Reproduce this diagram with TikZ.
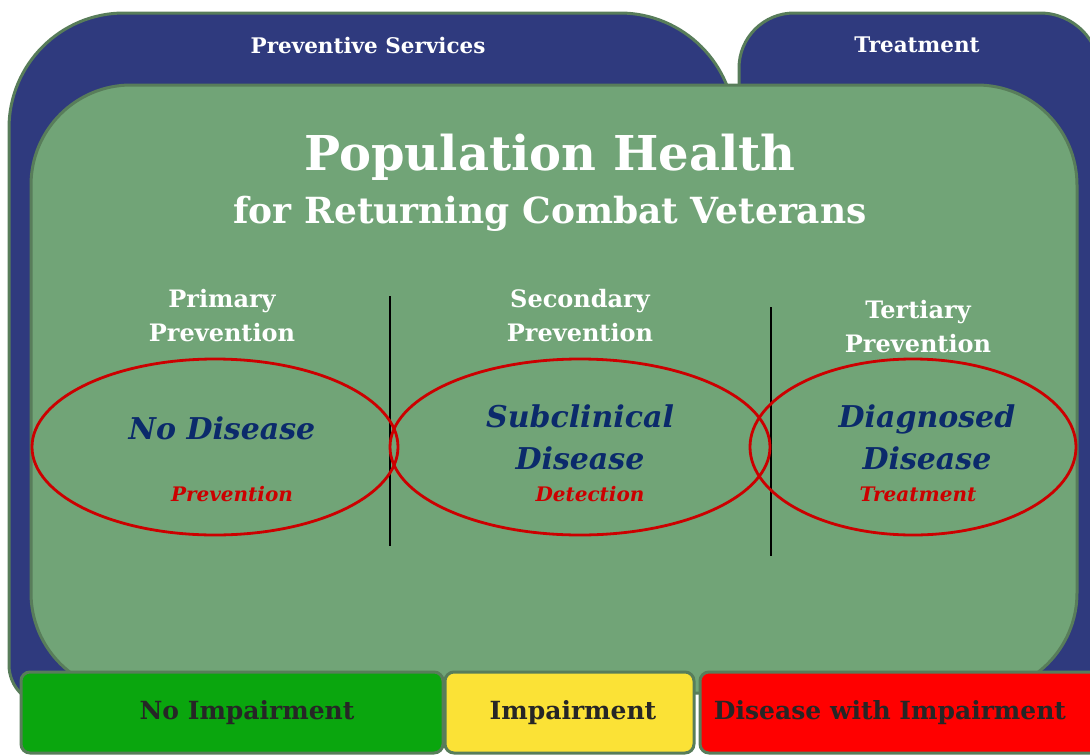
\documentclass[tikz,border=0pt]{standalone}
\usepackage{fontspec}
\setmainfont{DejaVu Serif}
\usetikzlibrary{shapes.geometric}

\definecolor{tabblue}{HTML}{2F3A7E}
\definecolor{panelgreen}{HTML}{71A477}
\definecolor{edgegreen}{HTML}{587D5A}
\definecolor{bargreen}{HTML}{0AA60E}
\definecolor{baryellow}{HTML}{FBE236}
\definecolor{barred}{HTML}{FF0000}
\definecolor{ovalred}{HTML}{CC0000}
\definecolor{stagenavy}{HTML}{0B2A6B}

\tikzset{
  tab/.style={fill=tabblue, draw=edgegreen, line width=3pt},
  panel/.style={fill=panelgreen, draw=edgegreen, line width=3pt},
  bar/.style={draw=edgegreen, line width=3pt, rounded corners=9pt,
    minimum height=81pt, inner sep=0pt, text=black!85,
    font=\bfseries\fontsize{25}{28}\selectfont},
  tablabel/.style={text=white, font=\bfseries\fontsize{21.5}{24}\selectfont},
  level/.style={text=white, align=center,
    font=\bfseries\fontsize{24}{34}\selectfont},
  stage/.style={text=stagenavy, align=center,
    font=\bfseries\itshape\fontsize{30}{42}\selectfont},
  action/.style={text=ovalred, font=\bfseries\itshape\fontsize{20}{22}\selectfont},
  oval/.style={draw=ovalred, line width=2.8pt, ellipse, inner sep=0pt,
    minimum height=176pt},
  divider/.style={draw=black, line width=2.8pt}
}

\begin{document}
\begin{tikzpicture}[x=1pt, y=-1pt]
  \useasboundingbox (0,0) rectangle (1090,755);
  \clip (0,0) rectangle (1090,755);

  % blue tabs behind the panel
  \path[tab] (9,665) -- (9,128) arc[start angle=180, end angle=270, radius=115]
    -- (620,13) arc[start angle=270, end angle=360, radius=115]
    -- (735,600) -- (400,600) -- (400,705)
    -- (49,705) arc[start angle=90, end angle=180, radius=40] -- cycle;
  \path[tab] (739,705) -- (739,68) arc[start angle=180, end angle=270, radius=55]
    -- (1040,13) arc[start angle=270, end angle=360, radius=60]
    -- (1100,705) -- cycle;

  \node[tablabel] (prevServ) at (368,45) {Preventive Services};
  \node[tablabel] (treatServ) at (917,45) {Treatment};

  % green panel
  \path[panel, rounded corners=100pt] (31,85) rectangle (1077,693);

  \node[text=white, font=\bfseries\fontsize{48}{54}\selectfont] (popHealth) at (550,157)
    {Population Health};
  \node[text=white, font=\bfseries\fontsize{36}{40}\selectfont] (veterans) at (550,214)
    {for Returning Combat Veterans};

  % prevention levels
  \node[level] (primary)   at (222,316) {Primary\\Prevention};
  \node[level] (secondary) at (580,316) {Secondary\\Prevention};
  \node[level] (tertiary)  at (918,327) {Tertiary\\Prevention};

  \coordinate (sepAtop) at (390,296);
  \coordinate (sepAbot) at (390,546);
  \coordinate (sepBtop) at (771,307);
  \coordinate (sepBbot) at (771,556);
  \draw[divider] (sepAtop) -- (sepAbot);
  \draw[divider] (sepBtop) -- (sepBbot);

  % disease stages
  \node[oval, minimum width=366pt] (noDis)   at (215,447) {};
  \node[oval, minimum width=380pt] (subDis)  at (580,447) {};
  \node[oval, minimum width=326pt] (diagDis) at (913,447) {};

  \node[stage] (noDisTxt)   at (222,428) {No Disease};
  \node[stage] (subDisTxt)  at (580,437) {Subclinical\\Disease};
  \node[stage] (diagDisTxt) at (927,437) {Diagnosed\\Disease};

  \node[action] (prevAct)   at (232,494) {Prevention};
  \node[action] (detectAct) at (590,494) {Detection};
  \node[action] (treatAct)  at (918,494) {Treatment};

  % impairment bars
  \node[bar, fill=bargreen,  minimum width=422pt] (noImp)  at (232,712.5) {\hspace*{30pt}No Impairment};
  \node[bar, fill=baryellow, minimum width=249pt] (imp)    at (569.5,712.5) {\hspace*{7pt}Impairment};
  \node[bar, fill=barred,    minimum width=400pt] (disImp) at (900,712.5) {\hspace*{-20pt}Disease with Impairment};
\end{tikzpicture}
\end{document}
